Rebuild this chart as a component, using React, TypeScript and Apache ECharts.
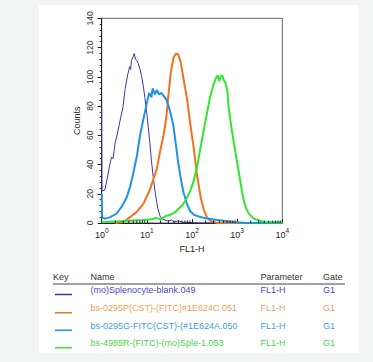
import React, { useEffect, useRef } from "react";
import * as echarts from "echarts";

// [log10(FL1-H), Counts]
const blankData: number[][] = [
  [0, 80], [0.005, 22], [0.067, 22.4], [0.12, 30], [0.18, 40], [0.22, 45], [0.25, 44], [0.3, 55],
  [0.36, 63], [0.42, 72], [0.47, 79], [0.52, 92], [0.58, 102], [0.62, 107], [0.64, 105], [0.66, 111],
  [0.7, 114], [0.72, 116], [0.75, 112], [0.78, 111], [0.81, 109], [0.85, 105], [0.88, 101], [0.92, 94],
  [0.955, 86], [1.0, 75], [1.03, 66], [1.07, 54], [1.1, 43], [1.14, 32], [1.18, 22], [1.22, 14],
  [1.25, 9], [1.3, 4], [1.35, 2.5], [1.45, 1.5], [1.55, 2], [1.6, 0.8], [1.7, 1.5], [1.8, 0.5],
  [1.9, 0.5], [2.0, 0.3], [2.2, 0], [4, 0],
];
const orangeData: number[][] = [
  [0.3, 0], [0.48, 0.7], [0.63, 4], [0.78, 7.7], [0.93, 13.5], [1.07, 23], [1.22, 37], [1.3, 50],
  [1.37, 60], [1.43, 72], [1.48, 88], [1.53, 103], [1.59, 113], [1.65, 116], [1.7, 115], [1.75, 110],
  [1.81, 99], [1.89, 85], [1.96, 68], [2.04, 51], [2.11, 33], [2.19, 18], [2.26, 9], [2.33, 4],
  [2.41, 1.4], [2.56, 0], [4, 0],
];
const blueData: number[][] = [
  [0, 20], [0.01, 4], [0.07, 3], [0.19, 4], [0.33, 6.5], [0.44, 11], [0.56, 18], [0.63, 25],
  [0.7, 34], [0.78, 46], [0.85, 60], [0.93, 72], [1.0, 82], [1.05, 89], [1.1, 86], [1.13, 92],
  [1.18, 88], [1.22, 91], [1.27, 88], [1.32, 89], [1.37, 87], [1.44, 84], [1.5, 78], [1.55, 72],
  [1.59, 66], [1.65, 52], [1.7, 40], [1.76, 29], [1.81, 21], [1.89, 13], [1.96, 8], [2.05, 5.5],
  [2.15, 4.5], [2.33, 3], [2.56, 2], [2.93, 0.7], [3.2, 0], [4, 0],
];
const greenData: number[][] = [
  [0, 0.5], [0.3, 1], [0.6, 1.5], [0.9, 2], [1.1, 2.5], [1.2, 3.5], [1.3, 2.5], [1.44, 5],
  [1.55, 6], [1.65, 8], [1.81, 13], [1.9, 18], [1.96, 22], [2.04, 29], [2.11, 38], [2.18, 50],
  [2.25, 62], [2.33, 75], [2.4, 86], [2.48, 95], [2.53, 99], [2.57, 101], [2.6, 97], [2.63, 100],
  [2.67, 101], [2.7, 98], [2.74, 96], [2.78, 91], [2.81, 80], [2.86, 68], [2.92, 56], [2.98, 45],
  [3.04, 34], [3.1, 23], [3.15, 15], [3.2, 10], [3.26, 6.4], [3.37, 3], [3.5, 1.5], [3.59, 0.7],
  [4, 0.3],
];

const decades = [0, 1, 2, 3, 4];
const yTicks = [0, 20, 40, 60, 80, 100, 120, 140];

const legendNames = [
  "(mo)Splenocyte-blank.049",
  "bs-0295P(CST)-(FITC)#1E624C.051",
  "bs-0295G-FITC(CST)-(#1E624A.050",
  "bs-4985R-(FITC)-(mo)Sple-1.053",
];
const legendParams = ["FL1-H", "FL1-H", "FL1-H", "FL1-H"];
const legendGates = ["G1", "G1", "G1", "G1"];
const lineColors = ["#3b35ad", "#f2711e", "#1f92e6", "#2ee62e"];
const textColors = ["#4a48c6", "#f0a057", "#3d9fe2", "#48d448"];
const lineWidths = [1, 2, 2, 2];

const minorLogTicks: number[] = [];
for (let n = 0; n < 4; n++) {
  for (let k = 2; k <= 9; k++) minorLogTicks.push(n + Math.log10(k));
}

export default function App() {
  const ref = useRef<HTMLDivElement>(null);
  useEffect(() => {
    if (!ref.current) return;
    const chart = echarts.init(ref.current, null, { renderer: "svg" });
    const font = "Liberation Sans, Arial, sans-serif";
    const dataSets = [blankData, orangeData, blueData, greenData];
    const order = [0, 3, 1, 2];
    const lf = `9px ${font}`;

    const rowY = [290, 308.3, 325.8, 343.3];
    const graphics: any[] = [
      { type: "rect", shape: { x: 39, y: 5, width: 320, height: 348 }, style: { fill: "#ffffff" }, z: -10 },
      { type: "text", x: 53, y: 277, style: { text: "Key", font: lf, fill: "#333", textVerticalAlign: "middle" } },
      { type: "text", x: 90.5, y: 277, style: { text: "Name", font: lf, fill: "#333", textVerticalAlign: "middle" } },
      { type: "text", x: 260.5, y: 277, style: { text: "Parameter", font: lf, fill: "#333", textVerticalAlign: "middle" } },
      { type: "text", x: 323, y: 277, style: { text: "Gate", font: lf, fill: "#333", textVerticalAlign: "middle" } },
      { type: "line", shape: { x1: 53, y1: 284, x2: 345, y2: 284 }, style: { stroke: "#444", lineWidth: 1 } },
    ];
    legendNames.forEach((name, i) => {
      const y = rowY[i];
      graphics.push(
        { type: "line", shape: { x1: 55, y1: y + 4.5, x2: 72, y2: y + 4.5 }, style: { stroke: lineColors[i], lineWidth: 1.5 } },
        { type: "text", x: 90.5, y, style: { text: name, font: lf, fill: textColors[i], textVerticalAlign: "middle" } },
        { type: "text", x: 260.5, y, style: { text: legendParams[i], font: lf, fill: textColors[i], textVerticalAlign: "middle" } },
        { type: "text", x: 323, y, style: { text: legendGates[i], font: lf, fill: textColors[i], textVerticalAlign: "middle" } },
      );
    });

    const series: any[] = order.map((i) => ({
      type: "line",
      data: dataSets[i],
      showSymbol: false,
      symbol: "none",
      lineStyle: { color: lineColors[i], width: lineWidths[i] },
      z: 3 + i,
    }));
    series.push({
      type: "custom",
      data: minorLogTicks.map((v) => [v, 0]),
      renderItem: (params: any, api: any) => {
        const p = api.coord([api.value(0), 0]);
        return {
          type: "line",
          shape: { x1: p[0], y1: p[1], x2: p[0], y2: p[1] - 2.5 },
          style: { stroke: "#222", lineWidth: 1 },
        };
      },
      z: 10,
      silent: true,
    });

    chart.setOption({
      animation: false,
      backgroundColor: "#f3f4f4",
      textStyle: { fontFamily: font },
      graphic: graphics,
      grid: {
        left: 101.7,
        top: 18.3,
        width: 180.6,
        height: 204.7,
        show: true,
        borderColor: "#666",
        borderWidth: 1,
        backgroundColor: "#ffffff",
      },
      xAxis: {
        type: "value",
        min: decades[0],
        max: decades[decades.length - 1],
        interval: 1,
        name: "FL1-H",
        nameLocation: "middle",
        nameGap: 21,
        nameTextStyle: { fontSize: 9, color: "#222", fontFamily: font },
        axisLine: { show: true, lineStyle: { color: "#222", width: 1 } },
        axisTick: { show: true, inside: true, length: 4, lineStyle: { color: "#222" } },
        splitLine: { show: false },
        axisLabel: {
          margin: 4,
          formatter: (v: number) => `{b|10}{s|${v}}`,
          rich: {
            b: { fontSize: 9, color: "#222", fontFamily: font, verticalAlign: "bottom", lineHeight: 12 },
            s: { fontSize: 6.5, color: "#222", fontFamily: font, verticalAlign: "top", lineHeight: 12 },
          },
        },
      },
      yAxis: {
        type: "value",
        min: yTicks[0],
        max: yTicks[yTicks.length - 1],
        interval: 20,
        name: "Counts",
        nameLocation: "middle",
        nameGap: 20,
        nameRotate: 90,
        nameTextStyle: { fontSize: 9, color: "#222", fontFamily: font },
        axisLine: { show: true, lineStyle: { color: "#222", width: 1 } },
        axisTick: { show: true, length: 4, lineStyle: { color: "#222" } },
        minorTick: { show: true, splitNumber: 5, length: 2, lineStyle: { color: "#222" } },
        splitLine: { show: false },
        axisLabel: { rotate: 90, margin: 7, fontSize: 8.5, color: "#333", fontFamily: font },
      },
      series,
    });
    return () => chart.dispose();
  }, []);
  return <div ref={ref} style={{ position: "fixed", left: 0, top: 0, width: 373, height: 362 }} />;
}
